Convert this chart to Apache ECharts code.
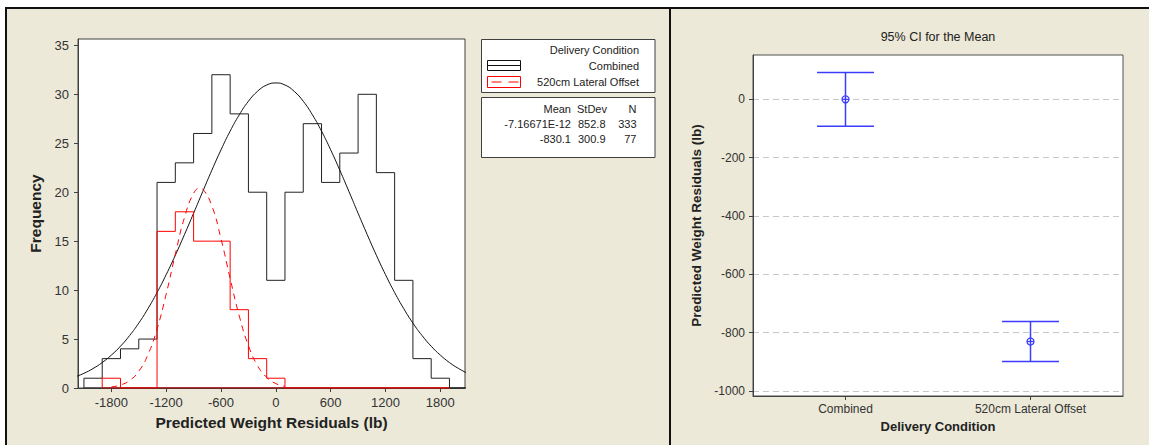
<!DOCTYPE html>
<html><head><meta charset="utf-8">
<script src="https://cdn.jsdelivr.net/npm/echarts@6/dist/echarts.min.js"></script>
<style>
html,body{margin:0;padding:0;background:#fff;}
#wrap{position:relative;width:1149px;height:445px;overflow:hidden;}
.abs{position:absolute;}
#c{position:absolute;left:0;top:0;width:1149px;height:445px;}
</style>
</head><body>
<div id="wrap">
  <div class="abs" style="left:7px;top:9px;width:1142px;height:436px;background:#ECE9D8;"></div>
  <div class="abs" style="left:5px;top:7px;width:1144px;height:2px;background:#111;"></div>
  <div class="abs" style="left:5px;top:7px;width:2px;height:438px;background:#111;"></div>
  <div class="abs" style="left:669px;top:7px;width:2px;height:438px;background:#111;"></div>
  <div id="c"></div>
</div>
<script>
// ---------- data ----------
const binEdges = [-2100,-1900,-1700,-1500,-1300,-1100,-900,-700,-500,-300,-100,100,300,500,700,900,1100,1300,1500,1700,1900,2100];
const combinedCounts = [1,3,4,5,21,23,26,32,28,20,11,20,27,21,24,30,22,11,3,1,0];
const offsetCounts = [null,1,0,0,16,18,15,15,8,3,1,0,0,0,0,0,0,0,0,0,null];

const combinedCurveX = [-2200,-2100,-2000,-1900,-1800,-1700,-1600,-1500,-1400,-1300,-1200,-1100,-1000,-900,-800,-700,-600,-500,-400,-300,-200,-100,0,100,200,300,400,500,600,700,800,900,1000,1100,1200,1300,1400,1500,1600,1700,1800,1900,2000,2100,2200];
const combinedCurveY = [1.12,1.50,1.99,2.60,3.36,4.27,5.36,6.63,8.10,9.75,11.58,13.56,15.67,17.85,20.07,22.25,24.33,26.24,27.91,29.29,30.31,30.95,31.16,30.95,30.31,29.29,27.91,26.24,24.33,22.25,20.07,17.85,15.67,13.56,11.58,9.75,8.10,6.63,5.36,4.27,3.36,2.60,1.99,1.50,1.12];

const offsetCurveX = [-1800,-1700,-1600,-1500,-1400,-1300,-1200,-1100,-1000,-900,-830,-800,-700,-600,-500,-400,-300,-200,-100,0,100];
const offsetCurveY = [0.11,0.31,0.77,1.71,3.40,6.03,9.59,13.66,17.41,19.88,20.42,20.32,18.60,15.24,11.19,7.35,4.33,2.28,1.08,0.45,0.17];

const freqTicks = [0,5,10,15,20,25,30,35];
const residTicks = [-1800,-1200,-600,0,600,1200,1800];

const legendTitle = 'Delivery Condition';
const groupNames = ['Combined','520cm Lateral Offset'];
const statHeaders = ['Mean','StDev','N'];
const statMean = ['-7.16671E-12','-830.1'];
const statStDev = ['852.8','300.9'];
const statN = ['333','77'];

const ciTitle = '95% CI for the Mean';
const ciCategories = ['Combined','520cm Lateral Offset'];
const ciMean = [0,-830.1];
const ciLower = [-91.9,-898.4];
const ciUpper = [91.9,-761.8];
const ciTicks = [-1000,-800,-600,-400,-200,0];

// ---------- helpers ----------
function outline(edges, counts){
  let i0 = counts.findIndex(v => v !== null);
  let i1 = counts.length - 1; while (counts[i1] === null) i1--;
  const pts = [[edges[i0],0]];
  for (let i=i0;i<=i1;i++){ pts.push([edges[i],counts[i]]); pts.push([edges[i+1],counts[i]]); }
  pts.push([edges[i1+1],0]);
  pts.push([edges[i0],0]);
  return pts;
}
const zip = (xs, ys) => xs.map((x,i)=>[x,ys[i]]);
const plain = v => String(v);

const FONT = '"Liberation Sans", Arial, sans-serif';
const BLUE = '#3c3cff';
const chart = echarts.init(document.getElementById('c'), null, {renderer:'svg'});

const legendX = 481.5, legendW = 173.5, txtR = 639;
const graphics = [
  {type:'rect', z:100, shape:{x:legendX,y:39.5,width:legendW,height:53}, style:{fill:'#fff',stroke:'#404040',lineWidth:1}},
  {type:'rect', z:100, shape:{x:legendX,y:97.5,width:legendW,height:60}, style:{fill:'#fff',stroke:'#404040',lineWidth:1}},
  {type:'text', z:101, x:txtR, y:50, style:{text:legendTitle, align:'right', verticalAlign:'middle', fontSize:11, fontFamily:FONT, fill:'#222'}},
  {type:'text', z:101, x:txtR, y:65.5, style:{text:groupNames[0], align:'right', verticalAlign:'middle', fontSize:11, fontFamily:FONT, fill:'#222'}},
  {type:'text', z:101, x:txtR, y:82, style:{text:groupNames[1], align:'right', verticalAlign:'middle', fontSize:11, fontFamily:FONT, fill:'#222'}},
  {type:'rect', z:101, shape:{x:487.5,y:60.5,width:33,height:10}, style:{fill:'none',stroke:'#111',lineWidth:1}},
  {type:'line', z:101, shape:{x1:487.5,y1:65.5,x2:520.5,y2:65.5}, style:{stroke:'#111',lineWidth:1}},
  {type:'rect', z:101, shape:{x:487.5,y:76.5,width:33,height:11}, style:{fill:'none',stroke:'#ff0000',lineWidth:1}},
  {type:'line', z:101, shape:{x1:491.5,y1:82,x2:518.5,y2:82}, style:{stroke:'#ff0000',lineWidth:1,lineDash:[10,7]}},
  {type:'text', z:101, x:571, y:108.5, style:{text:statHeaders[0], align:'right', verticalAlign:'middle', fontSize:11, fontFamily:FONT, fill:'#222'}},
  {type:'text', z:101, x:607, y:108.5, style:{text:statHeaders[1], align:'right', verticalAlign:'middle', fontSize:11, fontFamily:FONT, fill:'#222'}},
  {type:'text', z:101, x:636.5, y:108.5, style:{text:statHeaders[2], align:'right', verticalAlign:'middle', fontSize:11, fontFamily:FONT, fill:'#222'}},
  {type:'text', z:101, x:938, y:37, style:{text:ciTitle, align:'center', verticalAlign:'middle', fontSize:12.5, fontFamily:FONT, fill:'#222'}}
];
for (let r=0;r<statMean.length;r++){
  const y = 123.5 + r*15.5;
  graphics.push({type:'text', z:101, x:571, y:y, style:{text:statMean[r], align:'right', verticalAlign:'middle', fontSize:11, fontFamily:FONT, fill:'#222'}});
  graphics.push({type:'text', z:101, x:605.5, y:y, style:{text:statStDev[r], align:'right', verticalAlign:'middle', fontSize:11, fontFamily:FONT, fill:'#222'}});
  graphics.push({type:'text', z:101, x:636.5, y:y, style:{text:statN[r], align:'right', verticalAlign:'middle', fontSize:11, fontFamily:FONT, fill:'#222'}});
}

const axisLineStyle = {color:'#404040', width:1};
const option = {
  animation:false,
  backgroundColor:'transparent',
  textStyle:{fontFamily:FONT},
  graphic: graphics,
  grid:[
    {left:78, top:39, width:387, height:349, show:true, backgroundColor:'#fff', borderColor:'#404040', borderWidth:1},
    {left:753, top:55, width:370, height:341, show:true, backgroundColor:'#fff', borderColor:'#505050', borderWidth:1}
  ],
  xAxis:[
    {type:'value', gridIndex:0, min:-2165, max:2070,
     axisLine:{show:true, onZero:false, lineStyle:axisLineStyle},
     axisTick:{show:true, length:4, customValues:residTicks, lineStyle:axisLineStyle},
     axisLabel:{customValues:residTicks, formatter:plain, fontSize:13, color:'#333', margin:8, fontFamily:FONT},
     splitLine:{show:false},
     name:'Predicted Weight Residuals (lb)', nameLocation:'middle', nameGap:26,
     nameTextStyle:{fontSize:15.5, fontWeight:'bold', color:'#222', fontFamily:FONT}},
    {type:'category', gridIndex:1, data:ciCategories, boundaryGap:true,
     axisLine:{show:true, onZero:false, lineStyle:{color:'#404040', width:1}},
     axisTick:{show:true, alignWithLabel:true, length:4, lineStyle:{color:'#404040'}},
     axisLabel:{fontSize:12, color:'#333', margin:7, fontFamily:FONT},
     splitLine:{show:false},
     name:'Delivery Condition', nameLocation:'middle', nameGap:22,
     nameTextStyle:{fontSize:13, fontWeight:'bold', color:'#222', fontFamily:FONT}}
  ],
  yAxis:[
    {type:'value', gridIndex:0, min:0, max:35.65,
     axisLine:{show:true, onZero:false, lineStyle:axisLineStyle},
     axisTick:{show:true, length:4, customValues:freqTicks, lineStyle:axisLineStyle},
     axisLabel:{customValues:freqTicks, formatter:plain, fontSize:13, color:'#333', margin:9, fontFamily:FONT},
     splitLine:{show:false},
     name:'Frequency', nameLocation:'middle', nameGap:35,
     nameTextStyle:{fontSize:15.5, fontWeight:'bold', color:'#222', fontFamily:FONT}},
    {type:'value', gridIndex:1, min:-1017, max:152,
     axisLine:{show:true, onZero:false, lineStyle:{color:'#404040', width:1}},
     axisTick:{show:true, length:4, customValues:ciTicks, lineStyle:{color:'#404040'}},
     axisLabel:{customValues:ciTicks, formatter:plain, fontSize:12, color:'#333', margin:8, fontFamily:FONT},
     splitLine:{show:true, lineStyle:{color:'#c8c8c8', type:[6,4], width:1}},
     name:'Predicted Weight Residuals (lb)', nameLocation:'middle', nameGap:50,
     nameTextStyle:{fontSize:13.5, fontWeight:'bold', color:'#222', fontFamily:FONT}}
  ],
  series:[
    {type:'line', xAxisIndex:0, yAxisIndex:0, data:outline(binEdges, combinedCounts), symbol:'none',
     lineStyle:{color:'#222', width:1}, z:2},
    {type:'line', xAxisIndex:0, yAxisIndex:0, data:zip(combinedCurveX, combinedCurveY), symbol:'none', smooth:true,
     lineStyle:{color:'#111', width:1}, z:3},
    {type:'line', xAxisIndex:0, yAxisIndex:0, data:outline(binEdges, offsetCounts), symbol:'none',
     lineStyle:{color:'#ff0000', width:1}, z:4},
    {type:'line', xAxisIndex:0, yAxisIndex:0, data:zip(offsetCurveX, offsetCurveY), symbol:'none', smooth:true,
     lineStyle:{color:'#ff0000', width:1, type:[6,5]}, z:5},
    {type:'custom', xAxisIndex:1, yAxisIndex:1, z:6,
     data: ciCategories.map((c,i)=>[i, ciMean[i], ciLower[i], ciUpper[i]]),
     encode:{x:0, y:[1,2,3]},
     renderItem:function(params, api){
       const c = api.value(0);
       const pm = api.coord([c, api.value(1)]);
       const pl = api.coord([c, api.value(2)]);
       const pu = api.coord([c, api.value(3)]);
       const half = 28.5, r = 3.5;
       const st = {stroke:BLUE, lineWidth:1.5, fill:null};
       return {type:'group', children:[
         {type:'line', shape:{x1:pu[0],y1:pu[1],x2:pl[0],y2:pl[1]}, style:st},
         {type:'line', shape:{x1:pu[0]-half,y1:pu[1],x2:pu[0]+half,y2:pu[1]}, style:st},
         {type:'line', shape:{x1:pl[0]-half,y1:pl[1],x2:pl[0]+half,y2:pl[1]}, style:st},
         {type:'circle', shape:{cx:pm[0],cy:pm[1],r:r}, style:{stroke:BLUE, lineWidth:1.3, fill:'none'}},
         {type:'line', shape:{x1:pm[0]-r,y1:pm[1],x2:pm[0]+r,y2:pm[1]}, style:{stroke:BLUE, lineWidth:1.2}}
       ]};
     }}
  ]
};
chart.setOption(option);
</script>
</body></html>
